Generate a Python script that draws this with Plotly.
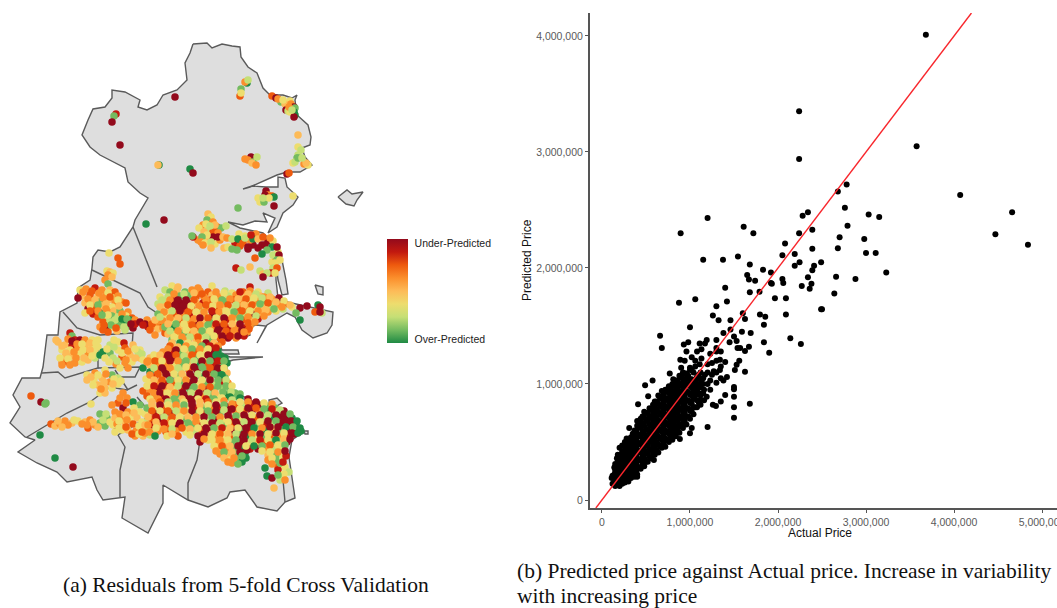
import plotly.graph_objects as go

# ---------- map outlines (map units) ----------
outer_x = [193,207,212,222,232,240,241,248,257,263,270,283,292,297,295,297,308,311,310,302,305,312,300,287,277,265,250,243,252,266,278,278,285,287,298,293,283,277,268,275,263,267,255,243,228,240,263,268,278,282,286,288,282,278,276,276,278,287,300,320,333,332,327,313,302,295,287,267,257,266,256,248,250,245,217,222,238,239,222,230,263,233,227,227,233,253,270,269,277,282,275,290,302,292,289,295,285,277,257,245,230,227,208,188,163,163,148,122,125,103,97,92,67,57,37,18,35,25,10,20,13,22,40,43,47,58,60,77,78,90,92,93,98,110,120,133,135,143,148,140,128,125,113,100,90,82,88,93,105,112,112,125,140,138,147,157,163,177,187,185,190,193]
outer_y = [44,43,48,44,46,47,57,67,73,88,95,95,98,95,100,115,125,137,145,148,157,165,172,172,175,180,187,189,186,187,187,177,178,187,197,205,213,227,233,218,213,222,221,225,222,228,233,238,247,260,280,294,295,280,262,280,298,302,305,309,312,325,333,338,330,317,313,325,343,326,325,328,335,337,338,350,350,354,354,357,357,360,362,380,390,402,407,400,398,403,407,417,433,440,457,498,502,511,507,490,492,498,507,500,485,503,533,518,497,500,490,477,482,472,463,452,440,437,423,407,395,378,378,367,335,335,312,303,288,280,268,257,250,252,247,227,220,207,198,193,182,168,162,155,147,135,120,109,107,98,90,92,100,107,110,105,95,90,80,63,53,44]
island_a_x = [338,347,352,363,357,354,346,338]
island_a_y = [197,190,194,192,200,206,204,197]
island_b_x = [315,323,323,318,315]
island_b_y = [285,287,295,294,285]
island_c_x = [304,308,308,305,304]
island_c_y = [431,431,434,434,431]
border_x = [133,157,None,92,113,140,148,157,None,63,77,100,133,132,140,None,42,58,65,98,98,None,98,140,135,115,None,115,128,None,27,67,90,110,127,137,None,137,148,148,118,125,120,120,None,200,197,188,188,None,283,285]
border_y = [227,287,None,270,280,293,307,313,None,312,328,335,333,347,352,None,373,372,378,368,340,None,368,367,377,377,None,370,390,None,437,413,402,387,390,385,None,397,410,417,435,447,470,497,None,440,460,483,500,None,480,502]

# ---------- residual points: (x, y, residual class 0 over-predicted ... 8 under-predicted) ----------
north_pts = [(175,97,8),(116,114,7),(114,116,1),(112,122,8),(120,145,8),(159,165,0),(158,165,4),(190,169,0),(193,173,8),(146,224,0),(164,220,8),(238,208,1),(274,206,8),(293,196,3),(109,253,3),(118,258,6),(120,264,6),(236,268,7),(255,258,6),(250,267,4),(241,270,2),
(247,83,0),(245,82,5),(248,80,2),(241,89,1),(240,96,6),(241,93,3),(272,96,6),(276,98,8),(281,102,1),(290,101,3),(285,104,4),(291,104,5),(294,107,8),(286,110,8),(295,108,1),(288,111,2),(294,112,0),(295,115,0),(290,112,3),(294,117,8),(278,99,5),(283,100,3),(289,107,5),(292,110,2),(298,135,4),
(298,147,3),(301,150,2),(298,155,2),(297,158,1),(293,163,3),(295,162,2),(298,158,1),(304,164,5),(308,165,3),(306,163,4),(302,158,2),(287,174,8),(289,173,6),
(251,157,8),(245,159,5),(248,160,5),(253,162,1),(257,157,2),(252,163,4),(256,165,5),(266,191,8),(268,195,5),(272,196,6),(274,197,0),(258,198,3),(260,202,3),(264,202,1),(265,195,8),(269,198,3),(263,198,2)]
malahide_pts = [(208,214,4),(211,217,3),(207,220,1),(213,222,5),(203,225,5),(199,228,3),(208,229,2),(217,227,6),(221,228,1),(226,226,2),(213,232,6),(218,233,5),(206,224,3),(215,225,4),(204,232,4),(210,226,2),(198,240,5),(208,240,4),(215,244,3),(220,240,5),(235,243,7),(240,246,6),(253,245,8),(258,248,8),(268,241,8),(273,241,3),(256,234,5),(278,252,3),(272,262,3),(276,258,5),(250,240,5),(239,234,3),(213,237,8),(218,237,8),(223,237,4),(207,235,3),(202,237,1),(193,237,7),(192,236,1),(201,242,5),(205,243,3),(211,242,2),(203,245,5),(211,248,4),(224,248,4),(228,247,3),(232,249,1),(237,250,1),(227,238,5),(232,239,2),(238,239,0),(245,236,3),(243,243,6),(248,247,8),(245,238,2),(253,239,0),(251,235,7),(258,239,4),(262,245,8),(265,245,8),(263,237,6),(270,238,5),(272,247,0),(277,247,8),(267,250,1),(262,254,0),(273,255,2),(279,255,8),(277,260,1),(280,260,3),(275,263,3),(273,268,2),(277,268,6),(271,273,7),(260,271,2),(263,274,4),(267,273,2),(263,277,8),(275,273,3),(248,249,8),
(107,271,3),(110,272,4),(113,273,3),(108,275,5),(112,277,4),(105,280,5),(108,284,1)]
west_pts = [(80,290,3),(86,289,5),(95,288,7),(102,290,5),(110,290,4),(115,292,6),(82,296,4),(78,298,8),(90,295,6),(98,296,4),(106,296,5),(113,298,3),(118,296,5),(85,303,4),(92,302,5),(100,302,1),(108,300,4),(115,302,5),(122,302,5),(126,303,6),(88,309,8),(95,308,6),(102,306,4),(112,307,3),(85,313,3),(93,314,7),(100,313,0),(108,312,5),(114,311,4),(120,311,1),(128,312,5),(105,318,2),(98,317,6),(112,316,1),(118,317,2),(126,316,3),(132,318,6),(103,322,6),(110,322,2),(117,322,1),(124,322,0),(130,320,0),(135,320,5),(100,327,5),(107,328,8),(113,327,3),(120,325,1),(128,326,1),(133,328,8),(135,324,7),(108,332,6),(117,331,4),(125,330,2),
(83,292,5),(92,291,6),(99,293,5),(108,293,3),(88,299,5),(95,300,4),(103,298,5),(110,297,6),(118,300,3),(90,305,3),(98,305,1),(106,304,4),(119,306,4),(90,311,6),(98,311,5),(106,309,5),(122,314,5),(108,315,3),(102,315,1),(115,320,2),(122,319,0),(127,319,1),(111,325,1),(104,325,6),(124,327,2),(131,324,8),(116,328,6),(103,330,6),(140,322,8),(148,327,7),(155,326,5),(161,325,6),(147,320,5),
(145,324,8),(152,324,6),(158,321,5),(150,330,6),(158,329,4),(143,325,7),(163,328,5),(155,335,5),(165,333,6),
(58,342,4),(70,333,7),(72,336,1),(75,340,7),(65,345,4),(72,346,7),(80,340,8),(85,340,5),(92,340,3),(98,340,3),(62,350,3),(70,350,3),(78,348,5),(85,346,4),(92,347,3),(98,347,3),(65,357,4),(72,356,4),(80,354,3),(88,353,5),(95,353,3),(62,362,5),(68,362,6),(75,363,5),(82,362,3),(88,360,4),(95,358,2),(100,355,0),
(62,346,4),(68,339,5),(72,341,8),(77,344,5),(82,344,3),(90,343,4),(96,343,3),(66,353,4),(74,352,5),(83,350,3),(90,350,4),(60,358,3),(68,359,3),(76,358,5),(84,358,4),(92,356,3),(70,365,5),(62,365,5),(56,340,4),
(110,345,2),(118,342,3),(124,343,7),(103,352,0),(110,353,1),(118,350,3),(125,348,6),(133,345,4),(140,350,3),(105,358,3),(113,358,2),(122,357,6),(130,355,4),(138,352,2),(116,364,5),(125,363,5),(132,362,3),(140,358,4),(120,368,3),(128,368,5),
(107,349,3),(114,347,2),(122,353,3),(128,351,5),(135,349,3),(109,362,3),(117,361,2),(126,360,5),(135,358,4),(142,354,2),(114,340,3),
(87,375,3),(95,373,5),(87,380,4),(94,380,3),(105,370,3),(112,375,1),(118,378,2),(102,378,4),(110,382,5),(118,384,3),(98,385,4),(105,388,4),(112,388,3),(100,393,3),(105,393,4),(91,404,3),
(91,377,4),(98,375,3),(106,374,5),(114,379,3),(104,382,4),(113,384,4),(121,381,3),(93,385,3),(101,389,5)]
southwest_pts = [(31,396,6),(41,402,8),(45,404,1),(46,403,1),(40,435,0),(55,458,0),(73,467,8),(51,424,6),(55,426,4),(60,424,5),(65,421,5),(72,423,4),(78,421,3),(85,422,4),(90,420,5),(95,425,5),(100,423,1),(105,426,1),(88,428,6),(98,427,4),(117,427,8),(107,418,1),(100,414,1),(106,414,2),(113,425,3),
(58,421,4),(68,425,5),(74,420,3),(82,424,5),(93,422,4),(103,420,2),(110,422,3),(87,425,5),(62,427,4),
(123,393,5),(118,403,6),(127,398,5),(133,402,0),(140,405,1),(123,408,8),(115,412,5),(112,405,5),(128,412,5),(140,412,3),(115,418,4),(122,418,5),(130,418,3),(137,418,4),(145,414,3),(117,424,5),(125,423,4),(133,424,6),(142,422,3),(148,420,2),(122,430,3),(128,430,4),(136,431,5),(143,430,3),(148,428,2),(115,432,3),(135,436,5),(143,436,4),(150,435,2),
(120,398,5),(126,403,6),(134,408,3),(120,414,5),(126,415,4),(134,413,4),(119,421,3),(127,420,5),(139,426,3),(145,425,4),(119,428,3),(126,427,6),(132,434,6),(139,434,3),(145,433,5),(147,408,1)]
city_north_pts = [(172,286,3),(178,287,4),(198,288,5),(212,286,3),(250,287,7),(165,290,2),(170,292,1),(177,290,4),(185,292,1),(192,290,5),(200,291,5),(208,292,6),(225,291,2),(232,293,3),(243,292,6),(250,291,5),(258,292,3),(160,297,3),(168,297,2),(175,298,7),(180,296,1),(188,296,1),(196,297,6),(204,297,5),(212,295,4),(220,297,5),(228,296,2),(236,295,5),(244,297,4),(252,297,2),(260,296,4),(268,293,2),(158,304,2),(165,303,4),(172,302,8),(180,303,8),(188,303,8),(196,302,4),(203,303,7),(210,300,6),(218,303,4),(226,302,1),(234,300,6),(241,303,5),(248,302,3),(256,301,5),(264,301,1),(272,299,5),(279,298,8),(162,310,3),(170,308,4),(177,307,8),(185,309,7),(192,309,6),(200,309,2),(208,307,5),(215,309,6),(222,308,4),(230,308,2),(238,308,6),(246,307,5),(254,308,3),(262,307,4),(270,306,2),(278,305,5),(285,304,6),(292,307,3),(300,308,8),(307,306,8),(318,305,0),(320,307,8),(315,312,6),(322,313,2),(320,312,8),(296,313,1),(300,320,0),
(158,314,1),(167,315,3),(175,314,6),(182,315,5),(190,316,7),(197,315,4),(205,315,3),(213,315,8),(220,315,2),(228,314,3),(236,315,5),(244,314,2),(252,314,8),(260,313,4),(268,312,5),(276,311,3),(283,309,2),(155,320,4),(163,321,5),(172,321,3),(180,321,6),(188,321,5),(195,322,8),(203,321,4),(210,322,1),(218,321,4),(226,320,7),(234,321,3),(242,320,6),(250,320,4),(258,319,7),(165,327,1),(173,328,0),(181,327,4),(189,328,3),(197,328,6),(205,328,2),(213,328,5),(221,327,8),(228,328,7),(236,328,5),(244,328,7),(250,326,5),(168,334,4),(176,334,3),(184,333,1),(192,334,5),(200,334,3),(208,334,4),(216,333,8),(224,334,5),(232,334,8),(240,333,6),(247,332,5),(172,340,1),(180,340,2),(188,340,5),(196,340,4),(204,340,3),(212,339,1),(220,338,6),(228,338,8),(236,338,5),(244,336,7)]
city_north_infill = [(174,294,5),(184,294,2),(194,293,4),(202,294,6),(216,292,5),(224,293,3),(240,292,7),(248,294,4),(256,294,2),(264,297,5),(162,300,2),(170,300,5),(178,300,8),(186,300,8),(194,300,6),(206,300,5),(214,299,3),(222,300,1),(230,299,5),(238,299,4),(246,299,6),(254,298,3),(262,298,2),(270,297,4),(160,307,4),(168,305,6),(175,305,8),(183,306,8),(191,306,3),(199,306,5),(206,305,6),(213,306,3),(220,305,5),(228,305,6),(236,305,2),(244,305,4),(252,305,6),(260,304,1),(268,303,6),(276,302,4),(284,301,3),(164,312,5),(172,311,2),(180,311,8),(188,312,6),(196,312,3),(204,312,5),(212,311,7),(219,312,5),(226,311,3),(234,312,1),(242,311,6),(250,311,3),(258,311,5),(266,310,4),(274,309,1),(282,307,5),(290,305,4),(160,317,2),(170,318,5),(178,318,4),(186,318,2),(194,319,5),(200,318,8),(208,318,6),(216,318,3),(224,318,8),(232,318,5),(240,318,1),(248,317,5),(256,316,2),(264,316,5),(168,324,4),(176,324,1),(184,324,3),(192,325,6),(200,325,5),(208,325,1),(216,324,7),(224,324,6),(232,324,4),(240,324,8),(248,323,6),(255,322,5),(170,331,2),(178,331,5),(186,330,3),(194,331,4),(202,331,1),(210,331,3),(218,330,8),(226,331,6),(234,331,5),(242,330,8),(249,329,6),(174,337,3),(182,337,5),(190,337,2),(198,337,6),(206,337,2),(214,336,3),(222,336,8),(230,336,7),(238,336,8),(244,332,5),(172,343,4),(180,343,0),(188,343,3),(198,343,5),(206,343,8),(214,343,4),(222,342,6)]
city_central_pts = [(170,346,6),(178,347,4),(186,346,5),(194,345,3),(202,346,1),(210,346,7),(218,346,5),(163,352,5),(172,352,7),(180,353,1),(188,352,4),(196,352,6),(204,352,3),(212,352,8),(218,351,0),(143,360,3),(150,358,4),(158,357,5),(166,358,7),(174,358,8),(182,359,1),(190,358,5),(198,358,1),(206,358,3),(214,358,8),(221,356,0),(225,358,0),(143,368,0),(150,365,4),(158,364,5),(166,364,5),(174,365,3),(182,365,1),(190,364,4),(198,364,0),(206,364,6),(214,365,7),(222,364,1),(227,363,0),(150,372,0),(157,370,6),(165,371,8),(173,371,4),(181,371,2),(189,370,6),(197,370,8),(205,370,1),(213,371,8),(221,372,0),(227,373,4),(146,379,3),(154,377,7),(162,377,4),(170,377,8),(178,377,1),(186,377,3),(194,377,8),(202,377,0),(210,377,5),(218,376,0),(225,378,1),(150,383,3),(158,383,5),(166,384,7),(174,383,6),(182,383,1),(190,383,8),(198,384,3),(206,384,1),(214,383,2),(222,382,7),(228,383,5),(143,391,6),(150,390,5),(158,389,8),(166,390,5),(174,390,3),(182,389,7),(190,390,1),(198,390,4),(206,390,8),(214,390,1),(222,389,2),(230,389,1),(155,396,5),(163,396,7),(171,396,4),(179,395,1),(187,396,8),(195,396,8),(203,396,5),(211,396,1),(219,396,3),(227,395,0),(235,393,1)]
city_central_infill = [(168,349,5),(176,350,8),(184,349,3),(192,349,1),(200,349,5),(208,349,3),(216,348,7),(148,361,5),(154,355,3),(160,355,4),(168,355,8),(176,355,6),(184,356,2),(192,355,6),(200,355,3),(208,355,8),(216,355,0),(222,360,0),(147,362,5),(155,361,6),(162,361,3),(170,361,8),(178,361,5),(186,361,1),(194,361,2),(202,361,8),(210,361,1),(218,361,7),(224,361,1),(154,368,2),(162,368,8),(170,368,5),(178,368,2),(186,367,3),(194,367,8),(202,367,1),(210,368,6),(218,368,8),(224,368,3),(150,375,5),(158,374,6),(166,374,8),(174,374,3),(182,374,4),(190,374,8),(198,374,2),(206,374,8),(214,374,1),(222,375,0),(154,380,4),(162,380,6),(170,380,1),(178,380,3),(186,380,5),(194,380,8),(202,380,3),(210,380,8),(218,380,1),(226,380,2),(147,386,3),(154,386,7),(162,386,8),(170,387,4),(178,386,2),(186,386,8),(194,387,1),(202,387,5),(210,387,6),(218,386,1),(226,386,1),(232,386,3),(147,396,6),(154,393,5),(160,393,8),(167,393,3),(175,393,5),(183,393,8),(191,393,2),(199,393,8),(207,393,2),(215,393,4),(223,392,1),(231,392,2),(240,394,1),(150,399,3),(158,399,5),(166,399,8),(174,399,1),(182,399,4),(190,399,8),(198,399,3),(206,399,7),(214,399,1),(222,398,3),(230,397,0),(238,397,1)]
city_south_pts = [(152,402,4),(160,402,6),(168,402,2),(176,402,1),(184,402,3),(192,402,8),(200,402,4),(208,402,6),(216,402,3),(224,401,5),(232,400,2),(240,398,0),(248,399,8),(155,408,3),(163,408,6),(171,408,2),(179,408,4),(187,408,3),(195,408,7),(203,408,1),(211,408,5),(219,408,7),(227,407,8),(235,405,6),(243,405,2),(251,404,7),(259,405,8),(267,406,1),(275,408,1),(156,414,8),(164,414,7),(172,414,8),(180,414,4),(188,414,2),(196,414,1),(204,414,7),(212,414,6),(220,414,1),(228,413,8),(236,412,5),(244,412,6),(252,411,8),(260,412,5),(268,412,0),(276,412,3),(284,411,8),(152,419,6),(160,420,8),(168,420,5),(176,420,3),(184,420,1),(192,420,4),(200,420,3),(208,420,2),(216,420,8),(224,419,3),(232,419,7),(240,418,3),(248,418,8),(256,418,6),(264,418,2),(272,418,0),(280,416,8),(288,416,8),(292,418,0),(153,425,7),(161,426,4),(169,426,6),(177,426,8),(185,426,3),(193,425,1),(201,426,7),(209,426,3),(217,426,5),(225,426,1),(233,425,6),(241,425,8),(249,425,8),(257,425,1),(265,425,7),(273,424,2),(281,423,8),(289,423,8),(296,425,0),(142,432,6),(150,432,5),(158,431,5),(166,432,6),(176,431,5),(186,432,3),(194,431,2),(202,431,6),(210,431,8),(218,431,4),(226,431,3),(234,431,8),(242,431,1),(250,431,7),(258,431,3),(266,431,0),(274,430,4),(282,430,1),(288,430,8),(295,430,0),(301,431,0),
(155,436,0),(167,436,3),(178,436,6),(198,436,8),(206,436,4),(214,437,5),(222,437,3),(230,437,6),(238,437,8),(246,437,0),(254,437,3),(262,437,1),(270,437,6),(278,436,5),(286,436,7),(294,434,8),(200,442,8),(208,440,3),(216,443,5),(224,443,4),(232,443,1),(240,443,8),(248,443,3),(256,443,4),(264,443,6),(272,442,1),(280,442,2),(287,442,8),(218,447,4),(226,449,5),(234,449,1),(242,449,0),(250,449,7),(258,449,8),(266,448,5),(274,449,2),(282,448,3),(220,454,5),(228,455,4),(236,456,1),(245,453,0),(247,450,8),(268,455,4),(276,456,1),(283,454,3),(230,460,3),(240,460,1),(246,458,0),(268,460,5),(276,460,1),(283,458,3),(286,456,7),(232,463,5),(242,462,0),(238,464,1),(278,467,6),(282,466,3),(285,467,3),(289,472,2),(265,468,0),(267,476,0),(272,478,8),(278,470,7),(284,474,3),(280,480,2),(285,480,5),(274,488,4),(278,475,1)]
city_south_infill = [(152,405,4),(160,405,8),(168,405,3),(176,405,5),(184,405,1),(192,405,8),(200,405,4),(208,405,3),(216,405,8),(224,405,1),(232,404,5),(240,402,3),(248,402,5),(256,402,8),(264,403,3),(272,404,5),(152,411,6),(160,411,3),(168,411,6),(176,411,2),(184,411,5),(192,411,8),(200,411,3),(208,411,1),(216,411,8),(224,410,2),(232,409,8),(240,409,3),(248,408,8),(256,408,6),(264,409,1),(272,409,7),(280,410,2),(148,417,4),(156,417,7),(164,417,2),(172,417,6),(180,417,3),(188,417,4),(196,417,5),(204,417,8),(212,417,1),(220,417,5),(228,416,8),(236,416,1),(244,415,8),(252,415,3),(260,415,8),(268,415,2),(276,415,8),(284,414,8),(290,414,1),(156,422,4),(164,423,7),(172,423,3),(180,423,8),(188,423,1),(196,422,5),(204,423,3),(212,423,8),(220,423,2),(228,422,3),(236,422,8),(244,422,2),(252,422,8),(260,422,3),(268,421,8),(276,421,1),(284,420,8),(291,421,8),(297,421,0),(148,425,5),(156,428,3),(164,429,5),(172,429,2),(182,428,6),(190,429,4),(198,428,3),(206,428,8),(214,428,1),(222,428,7),(230,428,4),(238,428,3),(246,428,8),(254,428,0),(262,428,5),(270,427,8),(278,427,8),(286,427,0),(293,427,1),(300,428,0),(172,434,4),(190,435,3),(204,434,8),(212,434,3),(220,434,6),(228,434,4),(236,434,2),(244,434,8),(252,434,5),(260,434,8),(268,434,3),(276,433,8),(284,433,3),(292,433,8),(298,433,0),(204,439,5),(212,440,3),(220,440,5),(228,440,3),(236,440,1),(244,440,8),(252,440,2),(260,440,7),(268,440,3),(276,440,0),(284,439,4),(290,439,8),(214,446,3),(222,446,6),(230,446,4),(238,446,8),(246,446,3),(254,446,0),(262,446,1),(270,445,6),(278,445,3),(285,445,1),(216,451,5),(224,452,1),(232,452,4),(240,452,8),(262,451,3),(270,452,3),(278,452,5),(285,451,8),(224,458,4),(234,458,5),(242,456,1),(272,458,3),(280,463,1),(228,462,5),(272,464,5),(283,462,7)]

# ---------- actual vs predicted (millions) ----------
outliers = [(3.68,4.01),(2.24,3.35),(2.24,2.94),(3.575,3.05),(4.07,2.63),(4.66,2.48),(4.47,2.29),(4.84,2.20),(2.78,2.72),(2.68,2.66),(2.76,2.52),(2.34,2.48),(2.28,2.45),(3.03,2.46),(3.15,2.44),(2.79,2.365),(2.39,2.33),(2.24,2.30),(1.20,2.43),(0.894,2.30),(1.61,2.355),(1.72,2.30),(2.70,2.265),(2.98,2.25),(2.08,2.21),(2.68,2.17),(2.39,2.165),(3.00,2.13),(3.11,2.13),(2.19,2.12),(2.05,2.11),(1.545,2.10),(1.15,2.07),(1.375,2.07),(2.245,2.05),(2.49,2.05),(1.68,2.03),(2.19,2.02),(2.41,2.02),(2.39,1.98),(3.23,1.96),(1.83,1.985),(1.92,1.96),(1.65,1.94),(2.66,1.925),(2.34,1.92),(2.88,1.905),(2.05,1.905),(1.67,1.90),(1.74,1.89),(2.06,1.87),(1.92,1.87),(1.93,1.865),(2.38,1.865),(2.27,1.845),(1.40,1.83),(2.36,1.82),(1.68,1.79),(1.79,1.795),(2.64,1.78),(1.06,1.73),(1.965,1.74),(2.09,1.74),
(0.875,1.70),(1.30,1.67),(1.42,1.71),(2.50,1.645),(2.49,1.645),(2.09,1.60),(1.795,1.60),(1.855,1.58),(1.26,1.59),(1.325,1.55),(1.46,1.55),(1.60,1.61),(1.625,1.56),(1.84,1.51),(1.00,1.49),(1.69,1.44),(2.14,1.395),(2.26,1.345),(1.84,1.36),(0.66,1.415),(0.68,1.31),(1.90,1.27),(1.67,1.32),(1.625,1.285),(1.57,1.31),(1.54,1.31),(1.68,0.83),(1.20,0.63),(1.50,0.975),(1.50,0.955),(1.50,0.89),(1.50,0.80),(1.50,0.71),(1.625,1.105),(1.56,1.20),(1.53,1.165),(1.51,1.12),(1.40,0.905),(1.35,0.85),(1.295,0.81),(1.26,0.82),(0.49,0.99),(0.575,1.03),(0.525,0.895),(0.41,0.825),(0.31,0.62),(0.59,0.345),(1.02,0.62),(1.00,0.575),(0.885,0.525),(0.40,0.20)]
upper_cluster = [(1.38,1.44),(1.46,1.47),(1.50,1.41),(1.53,1.37),(1.59,1.45),(1.45,1.36),(1.30,1.38),(1.19,1.38),(1.17,1.35),(1.11,1.35),(0.98,1.36),(0.93,1.34),(0.96,1.28),(1.08,1.28),(1.13,1.30),(1.30,1.31),(1.23,1.26),(1.13,1.22),(1.02,1.23),(0.89,1.21),(0.94,1.20),(1.40,1.19),(1.34,1.21),(0.90,1.14),(1.00,1.14),(1.11,1.17),(1.27,1.11),(1.34,1.12),(1.42,1.06),(1.38,1.03),(1.30,1.01),(1.23,1.03),(1.17,1.08),(1.08,1.06),(0.81,1.04),(0.77,1.09),(0.89,1.06),(0.96,1.09),(1.23,0.95),(1.19,0.89),(1.11,0.86),(1.08,0.95),(1.13,1.01),(1.02,1.00)]
cloud_columns = {
 0.11:[.19],0.12:[.14,.21],0.15:[.12,.18,.25,.31],0.18:[.13,.2,.27,.34,.39],0.2:[.12,.17,.24,.31,.38,.45],
 0.23:[.14,.21,.28,.35,.42,.47],0.26:[.15,.22,.29,.36,.43,.5],0.3:[.16,.23,.3,.37,.44,.51],0.33:[.19,.26,.33,.4,.47,.54],
 0.37:[.2,.27,.34,.41,.48,.55,.6],0.4:[.22,.29,.36,.43,.5,.57,.64,.68],0.44:[.27,.34,.41,.48,.55,.62,.7],
 0.48:[.29,.36,.43,.5,.57,.64,.71,.76],0.52:[.33,.4,.47,.54,.61,.68,.75],0.56:[.36,.43,.5,.57,.64,.71,.78],
 0.6:[.39,.46,.53,.6,.67,.74,.81,.85],0.64:[.41,.48,.55,.62,.69,.76,.83,.9],0.68:[.45,.52,.59,.66,.73,.8,.87,.94],
 0.72:[.46,.53,.6,.67,.74,.81,.88,.95],0.76:[.5,.57,.64,.71,.78,.85,.92,.98],0.8:[.52,.59,.66,.73,.8,.87,.94,1.0],
 0.84:[.55,.62,.69,.76,.83,.9,.97,1.03],0.88:[.58,.65,.72,.79,.86,.93,1.0,1.07],0.92:[.62,.69,.76,.83,.9,.97,1.04,1.1],
 0.96:[.65,.72,.79,.86,.93,1.0,1.05],1.0:[.7,.77,.84,.91,.98,1.04,1.12],1.04:[.74,.8,.87,.94,1.01,1.1],
 1.08:[.8,.86,.93,.99,1.05],1.12:[.82,.9,.97,1.04,1.1],1.16:[.86,.95]}
cloud_infill = {
 0.14:[.15,.22,.28],0.17:[.16,.23,.3,.36],0.22:[.17,.25,.32,.39],0.25:[.18,.26,.33,.4,.47],0.28:[.19,.26,.33,.4,.47,.53],
 0.32:[.21,.28,.35,.43,.5],0.35:[.23,.3,.37,.44,.51,.57],0.39:[.25,.32,.39,.46,.53,.6],0.42:[.28,.35,.42,.49,.56,.63,.66],0.46:[.31,.38,.45,.52,.59,.66,.72],
 0.5:[.33,.4,.47,.54,.61,.68,.75],0.54:[.37,.44,.51,.58,.65,.72,.79],0.58:[.4,.47,.54,.61,.68,.75,.82],0.62:[.43,.5,.57,.64,.71,.78,.85],0.66:[.46,.53,.6,.67,.74,.81,.88],
 0.7:[.49,.56,.63,.7,.77,.84,.91],0.74:[.52,.59,.66,.73,.8,.87,.94],0.78:[.55,.62,.69,.76,.83,.9,.97],0.82:[.58,.65,.72,.79,.86,.93,1.0],0.86:[.61,.68,.75,.82,.89,.96,1.03],
 0.9:[.65,.72,.79,.86,.93,1.0,1.06],0.94:[.68,.75,.82,.89,.96,1.03,1.09],0.98:[.72,.79,.86,.93,1.0,1.07],1.02:[.76,.83,.9,.97,1.04,1.12],1.06:[.8,.9,.96,1.02,1.15,1.2],
 1.1:[.84,.92,1.0,1.08],1.15:[.92,1.0,1.05],1.2:[1.0,1.1,1.17],1.25:[1.08,1.18],1.3:[1.1,1.2,1.28],1.35:[1.05,1.15,1.28]}
x_ticks = [0,1000000,2000000,3000000,4000000,5000000]
y_ticks = [0,1000000,2000000,3000000,4000000]
legend_labels = ["Over-Predicted","Under-Predicted"]
residual_colors = ["#1f8a44","#74bb60","#c5df76","#eddd6e","#fdbb58","#fb8f2c","#ee5a0e","#c2190f","#930a1c"]

map_pts = north_pts+malahide_pts+west_pts+southwest_pts+city_north_pts+city_north_infill+city_central_pts+city_central_infill+city_south_pts+city_south_infill
map_x=[p[0] for p in map_pts]; map_y=[p[1] for p in map_pts]; map_r=[p[2] for p in map_pts]
scatter_pts = outliers+upper_cluster+[(a,p) for a,col in cloud_columns.items() for p in col]+[(a,p) for a,col in cloud_infill.items() for p in col]
actual=[p[0]*1e6 for p in scatter_pts]; predicted=[p[1]*1e6 for p in scatter_pts]

W,H=1057,608
grey="#dedede"; edge="#5a5a5a"
fig=go.Figure()
for xs,ys in [(outer_x,outer_y),(island_a_x,island_a_y),(island_b_x,island_b_y),(island_c_x,island_c_y)]:
    fig.add_trace(go.Scatter(x=xs,y=ys,mode="lines",fill="toself",fillcolor=grey,line=dict(color=edge,width=1.4),xaxis="x",yaxis="y",hoverinfo="skip"))
fig.add_trace(go.Scatter(x=border_x,y=border_y,mode="lines",line=dict(color=edge,width=1.4),xaxis="x",yaxis="y",hoverinfo="skip"))
n=len(residual_colors)-1
fig.add_trace(go.Scatter(x=map_x,y=map_y,mode="markers",xaxis="x",yaxis="y",
    marker=dict(size=7.5,color=map_r,cmin=0,cmax=8,
        colorscale=[[i/n,c] for i,c in enumerate(residual_colors)],
        colorbar=dict(x=387/W,xanchor="left",xpad=0,ypad=0,y=1-291/H,yanchor="middle",lenmode="pixels",len=104,thickness=21,
            outlinewidth=0,tickmode="array",tickvals=[0.3,7.7],ticktext=legend_labels,ticks="outside",ticklen=5,tickcolor="white",
            tickfont=dict(family="Liberation Sans",size=10.5,color="#222222")))))
fig.add_trace(go.Scatter(x=actual,y=predicted,mode="markers",marker=dict(size=6,color="black"),xaxis="x2",yaxis="y2"))
fig.add_trace(go.Scatter(x=[-69000,4198000],y=[-69000,4198000],mode="lines",line=dict(color="#f8262c",width=1.4),xaxis="x2",yaxis="y2"))
tick=dict(automargin=False,showgrid=False,zeroline=False,showline=True,linecolor="#555555",linewidth=2,ticks="outside",ticklen=3,tickcolor="#555555",tickformat=",d",
          ticklabeloverflow="allow",tickfont=dict(family="Liberation Sans",size=10.5,color="#5a5a5a"))
def ann(text,x,y,xanchor="center",**kw):
    return dict(text=text,x=x/W,y=1-y/H,xref="paper",yref="paper",showarrow=False,xanchor=xanchor,yanchor="middle",**kw)
sans=dict(family="Liberation Sans",size=12,color="#111111")
serif=dict(family="Liberation Serif",size=21.5,color="#111111")
fig.update_layout(width=W,height=H,margin=dict(l=0,r=0,t=0,b=0),paper_bgcolor="white",plot_bgcolor="white",showlegend=False,
    xaxis=dict(domain=[0,500/W],range=[0,500],visible=False,automargin=False),
    yaxis=dict(domain=[0,1],range=[608,0],visible=False,automargin=False),
    xaxis2=dict(domain=[590/W,1],range=[-136000,5170000],anchor="y2",tickvals=x_ticks,**tick),
    yaxis2=dict(domain=[100/H,595/H],range=[-69000,4198000],anchor="x2",tickvals=y_ticks,**tick),
    annotations=[
      ann("Actual Price",820,533,font=sans),
      ann("Predicted Price",527,260,textangle=-90,font=sans),
      ann("(a) Residuals from 5-fold Cross Validation",61,585,xanchor="left",font=serif),
      ann("(b) Predicted price against Actual price. Increase in variability",515,571,xanchor="left",font=serif),
      ann("with increasing price",515,596,xanchor="left",font=serif),
    ])
fig.write_html("out.html",config={"displayModeBar":False},post_script="document.body.style.margin='0';document.documentElement.style.overflow='hidden';")
